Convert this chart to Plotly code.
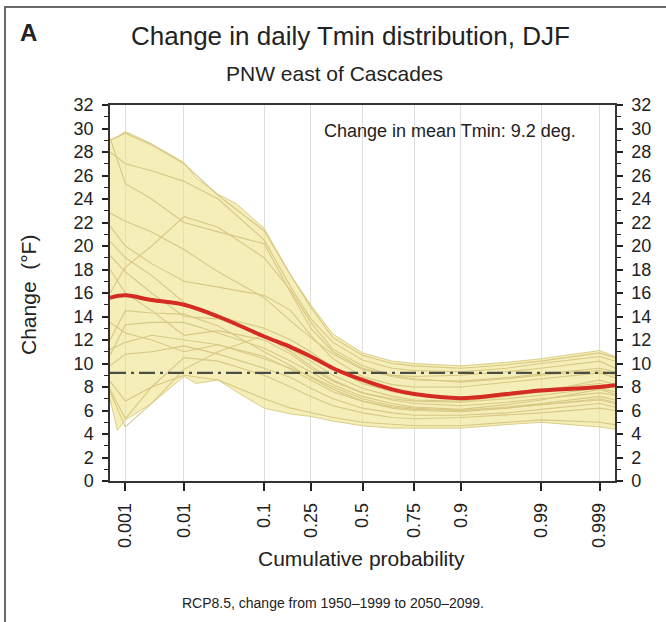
from statistics import NormalDist
import plotly.graph_objects as go

# ---------------- data ----------------
TICK_P = [0.001, 0.01, 0.1, 0.25, 0.5, 0.75, 0.9, 0.99, 0.999]
TICK_LABELS = ["0.001", "0.01", "0.1", "0.25", "0.5", "0.75", "0.9", "0.99", "0.999"]

ENV_P = [0.0005, 0.0007, 0.001, 0.003, 0.01, 0.015, 0.03, 0.05, 0.1, 0.175, 0.25,
         0.35, 0.5, 0.65, 0.75, 0.9, 0.97, 0.99, 0.999, 0.9995]
ENV_UPPER = [29.0, 29.3, 29.75, 28.7, 27.1, 25.8, 24.4, 23.6, 21.5, 17.5, 15.0,
             12.5, 10.9, 10.2, 10.0, 9.8, 10.1, 10.4, 11.1, 10.6]
ENV_LOWER = [7.0, 4.3, 5.2, 6.6, 8.9, 8.3, 8.6, 7.6, 6.2, 5.7, 5.5,
             5.1, 4.7, 4.5, 4.5, 4.5, 4.8, 5.0, 4.6, 4.4]

MODEL_P = [0.0005, 0.001, 0.003, 0.01, 0.03, 0.1, 0.175, 0.25, 0.35, 0.5, 0.65,
           0.75, 0.9, 0.97, 0.99, 0.999, 0.9995]
MODELS = [
    [29.0, 29.6, 28.6, 27.0, 24.3, 21.3, 17.5, 14.8, 12.2, 10.7, 10.0, 9.8, 9.6, 9.9, 10.2, 10.9, 10.5],
    [28.0, 27.0, 26.4, 25.5, 24.0, 20.5, 16.5, 13.8, 11.8, 10.3, 9.6, 9.4, 9.3, 9.6, 10.0, 10.6, 10.2],
    [29.2, 25.3, 24.0, 22.0, 21.2, 20.2, 16.0, 13.0, 11.0, 9.6, 9.0, 8.9, 9.0, 9.3, 9.6, 10.2, 9.6],
    [22.8, 22.1, 21.2, 19.7, 17.8, 15.6, 13.6, 12.2, 10.8, 9.5, 8.9, 8.6, 8.5, 8.8, 9.1, 9.6, 9.3],
    [16.0, 18.2, 20.0, 22.5, 21.6, 19.0, 16.2, 13.5, 11.2, 9.8, 9.0, 8.7, 8.4, 8.7, 9.0, 9.4, 9.0],
    [21.7, 20.0, 18.5, 17.0, 16.5, 15.8, 14.5, 12.4, 10.4, 8.9, 8.2, 8.0, 8.0, 8.4, 8.7, 9.2, 8.8],
    [20.4, 19.0, 17.5, 15.2, 14.0, 13.0, 12.0, 11.0, 9.6, 8.3, 7.6, 7.3, 7.1, 7.5, 7.8, 8.3, 8.0],
    [19.2, 17.8, 16.0, 14.0, 13.8, 12.4, 11.2, 10.2, 9.0, 7.9, 7.2, 6.9, 6.8, 7.2, 7.6, 8.6, 8.2],
    [18.0, 16.0, 14.5, 12.4, 12.8, 12.0, 10.8, 9.6, 8.5, 7.5, 6.9, 6.6, 6.4, 6.7, 7.0, 7.5, 7.3],
    [10.7, 13.3, 13.5, 13.5, 12.6, 11.3, 10.2, 9.3, 8.2, 7.2, 6.6, 6.3, 6.1, 6.5, 6.9, 7.8, 7.4],
    [11.2, 11.8, 12.4, 12.0, 11.6, 10.6, 9.5, 8.6, 7.6, 6.8, 6.2, 6.0, 5.9, 6.2, 6.5, 7.0, 6.7],
    [9.8, 10.8, 11.0, 11.5, 10.8, 9.6, 8.8, 7.9, 7.0, 6.2, 5.8, 5.6, 5.6, 5.8, 6.1, 6.6, 6.3],
    [7.8, 5.3, 8.0, 10.5, 10.2, 9.0, 8.0, 7.2, 6.4, 5.8, 5.4, 5.3, 5.4, 5.6, 5.8, 6.2, 6.0],
    [8.5, 6.8, 8.0, 9.0, 8.6, 7.0, 6.2, 5.8, 5.4, 5.0, 4.8, 4.7, 4.7, 5.0, 5.2, 5.0, 4.8],
    [7.6, 4.6, 6.6, 9.5, 11.0, 12.4, 11.0, 9.8, 8.6, 7.5, 7.0, 6.8, 6.7, 7.0, 7.3, 7.9, 7.6],
    [12.0, 14.5, 14.3, 14.2, 13.2, 11.0, 9.8, 8.8, 7.8, 6.8, 6.3, 6.1, 6.0, 6.3, 6.6, 7.2, 6.9],
    [13.5, 12.6, 12.0, 11.0, 11.6, 10.4, 9.6, 8.9, 8.0, 7.0, 6.4, 6.2, 6.0, 6.2, 6.5, 6.9, 6.6],
]
MEAN_LINE = [15.6, 15.8, 15.4, 15.0, 14.0, 12.3, 11.4, 10.6, 9.6, 8.6, 7.8,
             7.4, 7.05, 7.4, 7.7, 8.0, 8.15]
MEAN_CHANGE = 9.2
P_RANGE = [0.0005, 0.9995]
Y_RANGE = [0, 32]

# ---------------- helpers ----------------
nd = NormalDist()
def probit(ps):
    return [nd.inv_cdf(p) for p in ps]

x_range = probit(P_RANGE)

FONT = "Liberation Sans, Arial, Helvetica, sans-serif"
INK = "#222222"
fig = go.Figure()

# envelope
fig.add_trace(go.Scatter(x=probit(ENV_P), y=ENV_LOWER, mode="lines",
                         line=dict(color="#dccf8a", width=1), hoverinfo="skip",
                         showlegend=False))
fig.add_trace(go.Scatter(x=probit(ENV_P), y=ENV_UPPER, mode="lines", fill="tonexty",
                         fillcolor="rgba(238,226,135,0.58)", line=dict(color="#dccf8a", width=1),
                         hoverinfo="skip", showlegend=False))
# individual models
for m in MODELS:
    fig.add_trace(go.Scatter(x=probit(MODEL_P), y=m, mode="lines",
                             line=dict(color="#d8c884", width=1.1),
                             hoverinfo="skip", showlegend=False))
# mean change dashed line
fig.add_trace(go.Scatter(x=x_range, y=[MEAN_CHANGE, MEAN_CHANGE], mode="lines",
                         line=dict(color="#4b4e42", width=2.2, dash="16px,5px,3px,5px"),
                         hoverinfo="skip", showlegend=False))
# ensemble mean
fig.add_trace(go.Scatter(x=probit(MODEL_P), y=MEAN_LINE, mode="lines",
                         line=dict(color="#d42c22", width=4, shape="spline"),
                         hoverinfo="skip", showlegend=False))
# invisible trace for right axis
fig.add_trace(go.Scatter(x=x_range, y=Y_RANGE, yaxis="y2", mode="markers",
                         marker=dict(opacity=0), hoverinfo="skip", showlegend=False))

yax = dict(range=Y_RANGE, tickmode="linear", tick0=0, dtick=2, ticks="outside",
           ticklen=6, tickwidth=1.5, tickcolor=INK, showgrid=False, zeroline=False,
           showline=True, linecolor="#333333", linewidth=1.5, ticklabelstandoff=5,
           tickfont=dict(family=FONT, size=18, color=INK),
           minor=dict(dtick=1, ticks="outside", ticklen=4, tickwidth=1.2, tickcolor=INK))

fig.update_layout(
    width=666, height=622,
    margin=dict(l=110, r=51, t=105, b=141),
    paper_bgcolor="white", plot_bgcolor="white",
    xaxis=dict(range=x_range, tickmode="array", tickvals=probit(TICK_P),
               ticktext=TICK_LABELS, tickangle=-90, ticks="outside", ticklen=8,
               tickwidth=1.5, tickcolor=INK, showgrid=True, gridcolor="#dedede",
               gridwidth=1, zeroline=False, showline=True, mirror=True,
               linecolor="#333333", linewidth=1.5, ticklabelstandoff=5,
               tickfont=dict(family=FONT, size=18, color=INK)),
    yaxis=dict(**yax, side="left"),
    yaxis2=dict(**yax, side="right", overlaying="y"),
    showlegend=False,
)

def ann(text, x, y, size, **kw):
    fig.add_annotation(text=text, xref="paper", yref="paper", x=x, y=y,
                       xanchor="center", yanchor="middle",
                       showarrow=False, font=dict(family=FONT, size=size, color=INK), **kw)

# pixel -> paper helpers
def px(xp):
    return (xp - 110) / 505
def py(yp):
    return (481 - yp) / 376

ann("<b>A</b>", px(28), py(32), 24)
ann("Change in daily Tmin distribution, DJF", px(350), py(36), 26)
ann("PNW east of Cascades", px(334), py(73), 21)
ann("Change in mean Tmin: 9.2 deg.", px(450), py(131), 18)
ann("Change  (°F)", px(28), py(295), 21, textangle=-90)
ann("Cumulative probability", px(361), py(558), 21)
ann("RCP8.5, change from 1950\u20131999 to 2050\u20132099.", px(333), py(603), 14)

fig.add_shape(type="rect", xref="paper", yref="paper",
              x0=px(5), y0=py(700), x1=px(720), y1=py(7),
              line=dict(color="#6a6a6a", width=2), fillcolor="rgba(0,0,0,0)")

fig.write_html("out.html", config={"displayModeBar": False},
               post_script="document.body.style.margin='0';document.body.style.overflow='hidden';")
